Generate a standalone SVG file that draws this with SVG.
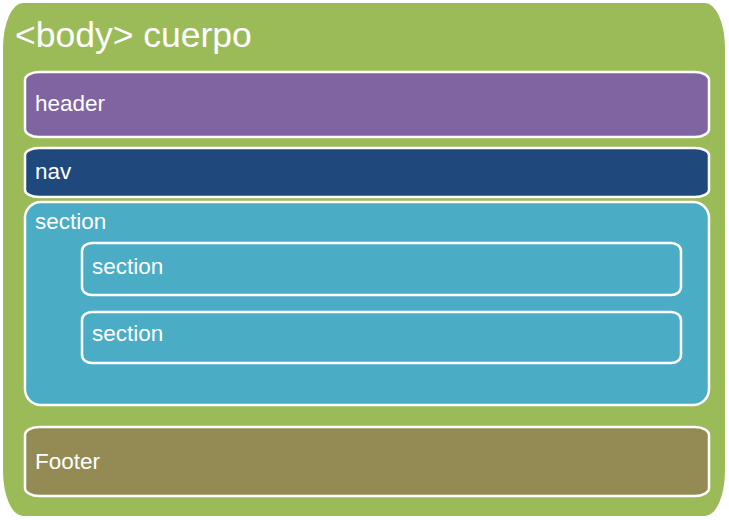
<svg xmlns="http://www.w3.org/2000/svg" width="729" height="520" viewBox="0 0 729 520">
<style>
.t{font-family:"Liberation Sans",Arial,sans-serif;fill:#fff}
.s{font-size:22.5px}
.b{stroke:#fff;stroke-width:2.5}
</style>
<rect width="729" height="520" fill="#fff"/>
<g id="body">
<rect x="3" y="3" width="722" height="513" rx="20" ry="45" fill="#9BBB59"/>
<text class="t" x="15" y="47" font-size="35.5">&lt;body&gt; cuerpo</text>
</g>
<g id="header">
<rect class="b" x="25" y="72" width="684" height="65" rx="14" ry="8" fill="#8064A2"/>
<text class="t s" x="35" y="111">header</text>
</g>
<g id="nav">
<rect class="b" x="25" y="148" width="684" height="49" rx="14" ry="7" fill="#1F497D"/>
<text class="t s" x="35" y="179">nav</text>
</g>
<g id="section">
<rect class="b" x="25" y="202" width="684" height="203" rx="16" ry="16" fill="#4BACC6"/>
<text class="t s" x="35" y="229">section</text>
</g>
<g id="section1">
<rect class="b" x="82" y="243" width="599" height="52" rx="10" ry="8" fill="#4BACC6"/>
<text class="t s" x="92" y="274">section</text>
</g>
<g id="section2">
<rect class="b" x="82" y="312" width="599" height="51" rx="10" ry="8" fill="#4BACC6"/>
<text class="t s" x="92" y="341">section</text>
</g>
<g id="footer">
<rect class="b" x="25" y="427" width="684" height="69" rx="14" ry="8" fill="#948A54"/>
<text class="t s" x="35" y="469">Footer</text>
</g>
<g id="connectors"/>
</svg>
